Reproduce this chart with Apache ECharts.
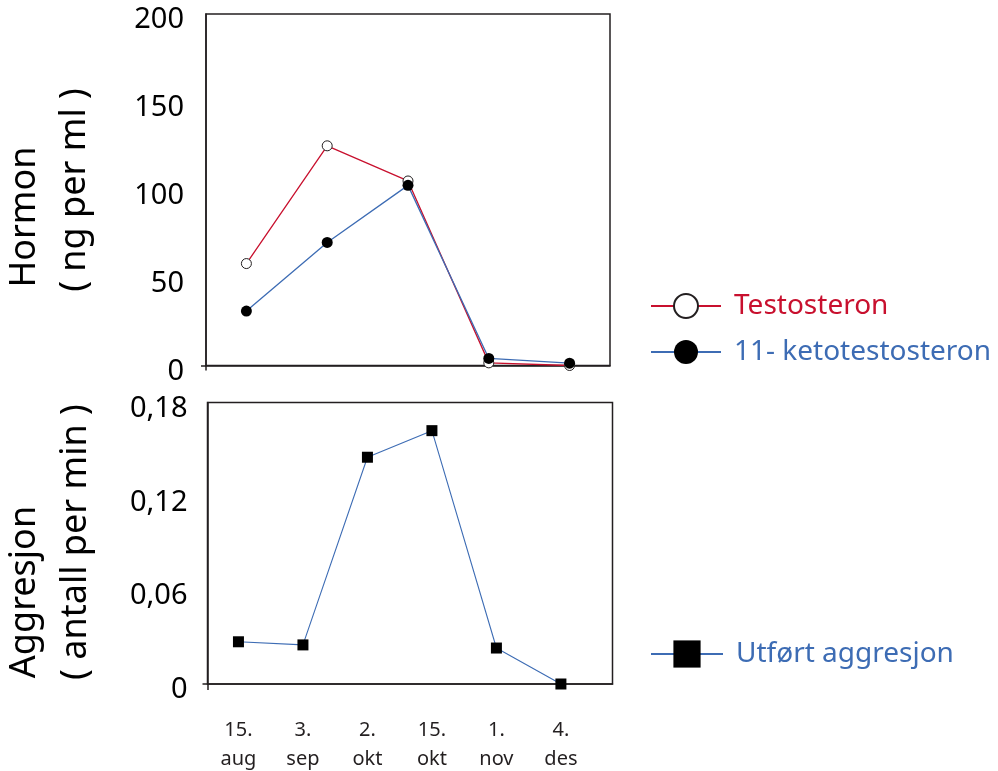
<!DOCTYPE html>
<html><head><meta charset="utf-8">
<script src="https://cdn.jsdelivr.net/npm/echarts@6/dist/echarts.min.js"></script>
<style>html,body{margin:0;padding:0;background:#fff}#c{width:998px;height:771px}</style>
</head><body><div id="c"></div>
<script>
// ---- data ----
const hormoneSamples = [0, 1, 2, 3, 4];
const testosteron = [58, 125, 105, 1.5, 0];
const ketotestosteron = [31, 70, 102.5, 4, 1.3];
const dateLabels = ['15.\naug', '3.\nsep', '2.\nokt', '15.\nokt', '1.\nnov', '4.\ndes'];
const aggresjon = [0.027, 0.025, 0.145, 0.162, 0.023, 0];
const seriesNames = ['Testosteron', '11- ketotestosteron', 'Utført aggresjon'];

// ---- style ----
const INK = '#231f20';
const RED = '#c8102e';
const BLUE = '#3d6cb4';
const FONT = 'Noto Sans';

const chart = echarts.init(document.getElementById('c'));
const axisLineStyle = { show: true, onZero: false, lineStyle: { color: INK, width: 1.5 } };

chart.setOption({
  animation: false,
  backgroundColor: '#fff',
  textStyle: { fontFamily: FONT },
  grid: [
    { left: 206, top: 14, width: 404, height: 351.5, show: true, borderColor: INK, borderWidth: 1.5, backgroundColor: 'transparent', containLabel: false, outerBoundsMode: 'none' },
    { left: 207.5, top: 402.5, width: 405, height: 281.5, show: true, borderColor: INK, borderWidth: 1.5, backgroundColor: 'transparent', containLabel: false, outerBoundsMode: 'none' }
  ],
  xAxis: [
    {
      type: 'value', gridIndex: 0, min: -0.5, max: 4.5,
      axisLine: axisLineStyle,
      axisTick: { show: true, length: 5, customValues: [-0.5], lineStyle: { color: INK, width: 1.5 } },
      axisLabel: { show: false }, splitLine: { show: false }
    },
    {
      type: 'value', gridIndex: 1, min: -0.48, max: 5.8,
      axisLine: axisLineStyle,
      axisTick: { show: true, length: 6, customValues: [-0.48], lineStyle: { color: INK, width: 1.5 } },
      axisLabel: {
        customValues: [0, 1, 2, 3, 4, 5],
        formatter: (v) => dateLabels[Math.round(v)],
        fontSize: 20, lineHeight: 29, margin: 32, color: INK, fontFamily: FONT
      },
      splitLine: { show: false }
    }
  ],
  yAxis: [
    {
      type: 'value', gridIndex: 0, min: 0, max: 200, interval: 50,
      axisLine: axisLineStyle,
      axisTick: { show: true, length: 5, customValues: [0], lineStyle: { color: INK, width: 1.5 } },
      axisLabel: { fontSize: 29, color: '#000', margin: 22, fontFamily: FONT, verticalAlign: 'top', lineHeight: 12 },
      splitLine: { show: false }
    },
    {
      type: 'value', gridIndex: 1, min: 0, max: 0.18, interval: 0.06,
      axisLine: axisLineStyle,
      axisTick: { show: true, length: 5, customValues: [0], lineStyle: { color: INK, width: 1.5 } },
      axisLabel: {
        fontSize: 29, color: '#000', margin: 20, fontFamily: FONT, verticalAlign: 'top', lineHeight: 12,
        formatter: (v) => (Math.abs(v) < 1e-9 ? '0' : v.toFixed(2).replace('.', ','))
      },
      splitLine: { show: false }
    }
  ],
  legend: [
    {
      orient: 'vertical', left: 650, top: 292, padding: 0,
      itemWidth: 70, itemHeight: 30, itemGap: 18, selectedMode: false,
      textStyle: { fontSize: 28, fontFamily: FONT, padding: [0, 0, 0, 8] },
      data: [
        { name: seriesNames[0], textStyle: { color: RED } },
        { name: seriesNames[1], textStyle: { color: BLUE } }
      ]
    },
    {
      orient: 'vertical', left: 650, top: 640, padding: 0,
      itemWidth: 72, itemHeight: 34, selectedMode: false,
      textStyle: { fontSize: 28, fontFamily: FONT, padding: [0, 0, 0, 8] },
      data: [{ name: seriesNames[2], textStyle: { color: BLUE } }]
    }
  ],
  series: [
    {
      name: seriesNames[0], type: 'line', xAxisIndex: 0, yAxisIndex: 0,
      data: testosteron.map((v, i) => [hormoneSamples[i], v]), symbol: 'circle', symbolSize: 10, showAllSymbol: true,
      itemStyle: { color: '#fff', borderColor: INK, borderWidth: 1 },
      lineStyle: { color: RED, width: 1.3 }, z: 2
    },
    {
      name: seriesNames[1], type: 'line', xAxisIndex: 0, yAxisIndex: 0,
      data: ketotestosteron.map((v, i) => [hormoneSamples[i], v]), symbol: 'circle', symbolSize: 11, showAllSymbol: true,
      itemStyle: { color: '#000', borderColor: '#000', borderWidth: 0 },
      lineStyle: { color: BLUE, width: 1.3 }, z: 3
    },
    {
      name: seriesNames[2], type: 'line', xAxisIndex: 1, yAxisIndex: 1,
      data: aggresjon.map((v, i) => [i, v]), symbol: 'rect', symbolSize: 11, showAllSymbol: true,
      itemStyle: { color: '#000', borderColor: '#000', borderWidth: 0 },
      lineStyle: { color: BLUE, width: 1.1 }, z: 3
    }
  ],
  graphic: [
    { type: 'text', x: 25, y: 217, rotation: Math.PI / 2,
      style: { text: 'Hormon', fontSize: 36, fontFamily: FONT, fill: '#000', textAlign: 'center', textVerticalAlign: 'middle', align: 'center', verticalAlign: 'middle' } },
    { type: 'text', x: 75, y: 190, rotation: Math.PI / 2,
      style: { text: '( ng per ml )', fontSize: 36, fontFamily: FONT, fill: '#000', textAlign: 'center', textVerticalAlign: 'middle', align: 'center', verticalAlign: 'middle' } },
    { type: 'text', x: 25, y: 592, rotation: Math.PI / 2,
      style: { text: 'Aggresjon', fontSize: 36, fontFamily: FONT, fill: '#000', textAlign: 'center', textVerticalAlign: 'middle', align: 'center', verticalAlign: 'middle' } },
    { type: 'text', x: 76, y: 542, rotation: Math.PI / 2,
      style: { text: '( antall per min )', fontSize: 36, fontFamily: FONT, fill: '#000', textAlign: 'center', textVerticalAlign: 'middle', align: 'center', verticalAlign: 'middle' } }
  ]
});
</script>
</body></html>
